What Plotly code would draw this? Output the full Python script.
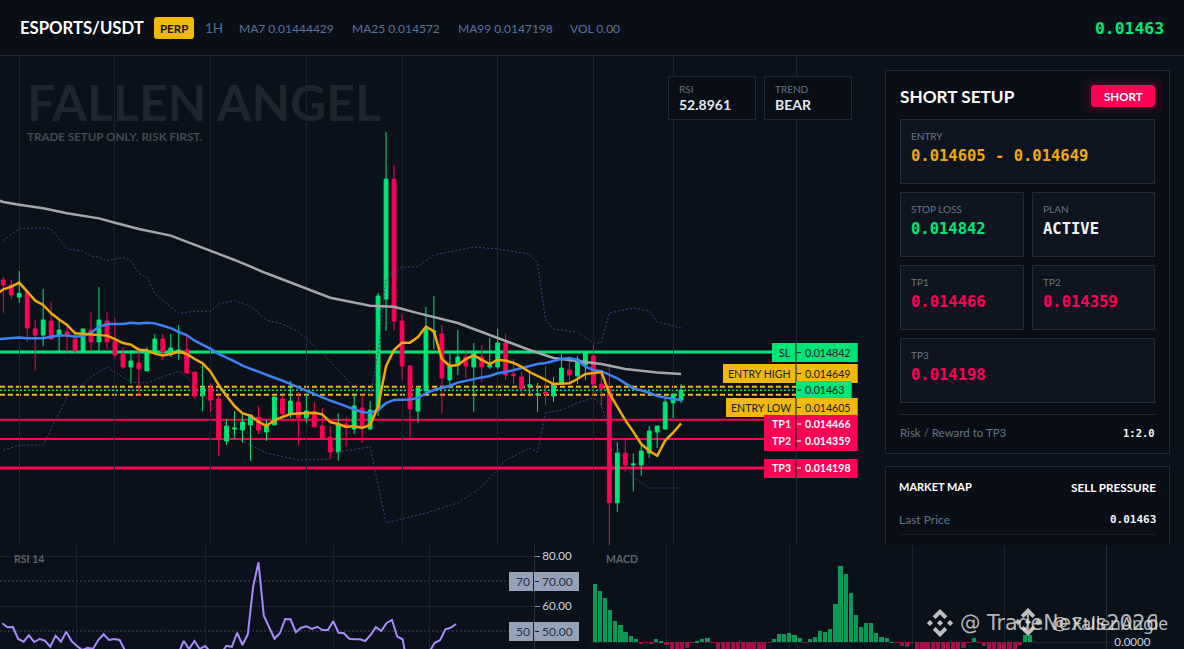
import numpy as np
import plotly.graph_objects as go

W, H = 1184, 649

# ---- candle data, in millionths of USDT
opens = [15242,15214,15147,15177,14970,14936,15014,14936,14953,14914,14840,14964,14898,15014,14903,14831,14759,14781,14737,14836,
         14914,14831,14836,14853,14731,14598,14642,14581,14348,14414,14409,14437,14481,14398,14437,14581,14498,14564,14476,14509,
         14431,14370,14287,14442,14414,14531,14414,14520,15136,15802,15014,14764,14514,14626,14953,14942,14687,14770,14814,14759,
         14814,14759,14759,14892,14720,14703,14653,14604,14620,14598,14664,14742,14709,14770,14820,14664,14637,14005,14281,14215,
         14215,14281,14398,14414,14559,14575]
highs = [15260,15242,15292,15177,15020,15192,15120,15014,14983,14964,14970,15064,15203,15064,15031,14868,14853,14868,14868,14942,
         14942,14942,14992,14931,14731,14770,14668,14603,14470,14514,14498,14492,14542,14464,14592,14603,14681,14620,14613,14564,
         14531,14431,14501,14481,14613,14613,14570,15170,16063,15880,15053,14770,14653,15092,15153,14992,14835,14964,14853,14892,
         14881,14920,14970,14942,14803,14731,14742,14670,14764,14703,14831,14798,14820,14836,14881,14742,14779,14342,14353,14279,
         14326,14431,14431,14581,14609,14664]
lows = [15060,15136,15116,14899,14738,14875,14909,14844,14838,14835,14840,14844,14844,14859,14809,14748,14668,14598,14737,14836,
        14798,14814,14798,14725,14583,14514,14509,14265,14326,14359,14339,14237,14387,14348,14437,14476,14476,14326,14450,14426,
        14364,14246,14239,14315,14387,14337,14414,14487,14959,14964,14687,14364,14448,14626,14859,14498,14642,14714,14698,14509,
        14675,14748,14748,14687,14664,14609,14598,14509,14548,14564,14664,14664,14664,14687,14598,14542,13760,13955,14178,14067,
        14155,14255,14309,14414,14475,14559]
closes = [15214,15159,15168,14975,14936,15020,14914,14964,14936,14848,14970,14898,15020,14898,14825,14759,14792,14748,14836,14914,
          14842,14864,14853,14725,14598,14642,14576,14359,14431,14420,14453,14492,14409,14442,14592,14498,14570,14476,14514,14426,
          14364,14287,14442,14426,14542,14426,14520,15153,15802,15014,14764,14526,14642,14970,14959,14698,14770,14814,14764,14836,
          14759,14770,14892,14714,14711,14637,14659,14609,14609,14664,14753,14714,14803,14836,14664,14637,14005,14281,14215,14220,
          14292,14403,14431,14564,14609,14630]

# moving averages, first value belongs to the candle before the first one shown
ma7 = [15158,15190,15205,15227,15177,15127,15103,15057,15023,14992,14946,14942,14938,14938,14933,14914,14892,14883,14855,14851,14833,
       14823,14831,14844,14831,14803,14779,14733,14659,14598,14542,14501,14489,14455,14431,14464,14479,14498,14500,14503,14505,
       14496,14453,14442,14426,14431,14420,14437,14539,14764,14853,14894,14894,14925,14983,14957,14803,14764,14770,14803,14825,
       14798,14775,14799,14794,14781,14759,14731,14711,14687,14664,14664,14668,14692,14720,14726,14731,14612,14538,14464,14400,
       14331,14294,14266,14350,14394,14446]
ma25 = [14912,14914,14920,14922,14918,14916,14918,14927,14933,14933,14927,14931,14949,14983,14996,14997,14997,15005,15001,15005,15001,
        14988,14975,14953,14936,14905,14883,14859,14831,14811,14790,14766,14749,14733,14712,14699,14683,14664,14644,14627,14609,
        14590,14572,14557,14539,14524,14509,14503,14520,14559,14576,14579,14579,14587,14613,14631,14642,14655,14672,14683,14694,
        14701,14709,14724,14731,14742,14751,14766,14775,14781,14794,14803,14809,14798,14761,14742,14736,14714,14696,14668,14640,
        14629,14616,14598,14588,14581,14575]
ma99_idx = [-1,0,2,5,8,12,14,17,21,26,29,33,37,41,46,49,52,57,62,66,69,75,78,82,85]
ma99_val = [15690,15675,15660,15640,15612,15584,15560,15525,15488,15406,15353,15279,15210,15143,15099,15093,15058,15003,14920,14853,14809,14775,14748,14728,14720]

bb_up_idx = [0,2,5,6,8,10,11,12,13,15,16,17,18,19,22,24,26,27,29,31,33,35,37,40,44,46,47,48,50,52,54,59,62,66,67,68,69,72,74,75,76,79,81,82,85]
bb_up_val = [15460,15527,15532,15525,15414,15403,15375,15368,15349,15366,15349,15279,15256,15168,15057,15068,15068,15109,15127,15097,15020,14997,14955,14836,14648,14603,14836,15242,15314,15314,15381,15425,15414,15386,15336,15020,14970,14953,14892,14892,15058,15086,15070,15009,14975]
bb_lo_idx = [0,2,5,8,11,13,16,18,22,23,26,29,33,37,41,42,46,48,53,57,60,63,66,67,68,70,72,74,75,76,79,81,85]
bb_lo_val = [14298,14324,14326,14592,14703,14759,14675,14670,14736,14703,14559,14370,14281,14242,14248,14287,14315,13893,13948,14004,14092,14242,14309,14287,14503,14520,14559,14587,14548,14398,14148,14087,14087]

rsi = [53.07,51.47,51.6,46.8,45.73,48.27,45.6,46.8,46.13,43.73,48.13,45.73,49.73,46.0,44.0,42.4,43.33,42.8,46.4,48.67,
       46.4,46.8,46.4,42.4,38,36,33,30,31,32,34,36,38,41,46.0,42.8,46.0,42.8,44.0,41.7,
       40.5,41,44.1,43.7,49.3,44.4,48.7,67.7,77.5,56.1,51.3,46.9,49.1,54.8,54.7,49.5,51.3,51.9,50.8,51.7,
       50.4,50.4,53.9,49.3,49.1,46.9,46.7,46.7,46.0,48.4,51.5,50.0,53.2,54.4,47.7,46.7,35,33,36,39,
       41.7,45.3,46.3,50.7,51.3,52.8]

# histogram in units of 1e-7
macd_hist = [175,154,132,97,64,51,31,19,10,-5,-2,-4,10,4,-8,-26,-28,-30,-16,-1,
             4,10,13,-1,-30,-32,-34,-35,-35,-34,-33,-30,-28,-24,-1,10,25,26,28,23,
             13,-1,10,16,34,31,40,115,229,205,148,82,46,58,58,28,16,13,1,-1,
             -12,-14,-1,-24,-28,-30,-30,-30,-28,-26,-24,-22,-17,-2,13,-1,-10,-26,-32,-34,
             -32,-30,-24,-8,22,22]

# price levels, in USDT
sl_price = 0.014842
entry_high = 0.014649
entry_low = 0.014605
last_price = 0.01463
tp1 = 0.014466
tp2 = 0.014359
tp3 = 0.014198

grid_main = [2,14,26,38,50,62,74,84]
grid_sub = [14,38,62,80]

GREEN, RED, GOLD = "#00E676", "#FF0055", "#F0B90B"
BG = "#0B111A"
MUTED = "#64748B"
SANS = "Lato, 'Noto Sans', sans-serif"
MONO = "'DejaVu Sans Mono', monospace"

u = 1e-6
idx = np.arange(len(opens))
fig = go.Figure()

bb_style = dict(color="#463A88", width=1, dash="2px,2px")
fig.add_trace(go.Scatter(x=bb_up_idx, y=np.array(bb_up_val)*u, mode="lines", line=bb_style, hoverinfo="skip"))
fig.add_trace(go.Scatter(x=bb_lo_idx, y=np.array(bb_lo_val)*u, mode="lines", line=bb_style, hoverinfo="skip"))
fig.add_trace(go.Candlestick(x=idx, open=np.array(opens)*u, high=np.array(highs)*u, low=np.array(lows)*u, close=np.array(closes)*u,
    increasing=dict(line=dict(color=GREEN, width=1), fillcolor=GREEN),
    decreasing=dict(line=dict(color=RED, width=1), fillcolor=RED),
    whiskerwidth=0, hoverinfo="skip"))
fig.add_trace(go.Scatter(x=ma99_idx, y=np.array(ma99_val)*u, mode="lines", line=dict(color="#A3A6AD", width=2.5), hoverinfo="skip"))
fig.add_trace(go.Scatter(x=np.arange(-1,86), y=np.array(ma25)*u, mode="lines", line=dict(color="#3B82F6", width=2.5), hoverinfo="skip"))
fig.add_trace(go.Scatter(x=np.arange(-1,86), y=np.array(ma7)*u, mode="lines", line=dict(color="#F0A90B", width=2.5), hoverinfo="skip"))

fig.add_trace(go.Scatter(x=idx, y=rsi, mode="lines", line=dict(color="#A78BFA", width=2), xaxis="x2", yaxis="y2", hoverinfo="skip"))
fig.add_trace(go.Bar(x=idx, y=np.array(macd_hist)*1e-7, width=0.82,
    marker=dict(color=["#0A9A57" if v >= 0 else "#A50F48" for v in macd_hist], line=dict(width=0)),
    xaxis="x3", yaxis="y3", hoverinfo="skip"))

def X(p): return p/W
def Y(p): return 1-p/H

shapes, ann = [], []
def rect(x0,y0,x1,y1,fill,line=None,lw=1,layer="below"):
    shapes.append(dict(type="rect",xref="paper",yref="paper",x0=X(x0),x1=X(x1),y0=Y(y0),y1=Y(y1),
        fillcolor=fill,line=dict(color=line or "rgba(0,0,0,0)",width=lw if line else 0),layer=layer))
def rrect(x0,y0,x1,y1,r,fill,layer="below"):
    def pt(a,b): return f"{X(a):.5f},{Y(b):.5f}"
    d = (f"M{pt(x0+r,y0)} L{pt(x1-r,y0)} Q{pt(x1,y0)} {pt(x1,y0+r)} L{pt(x1,y1-r)} Q{pt(x1,y1)} {pt(x1-r,y1)} "
         f"L{pt(x0+r,y1)} Q{pt(x0,y1)} {pt(x0,y1-r)} L{pt(x0,y0+r)} Q{pt(x0,y0)} {pt(x0+r,y0)} Z")
    shapes.append(dict(type="path",xref="paper",yref="paper",path=d,fillcolor=fill,line=dict(width=0),layer=layer))
def seg(x0,y0,x1,y1,color,lw=1,layer="below"):
    shapes.append(dict(type="line",xref="paper",yref="paper",x0=X(x0),x1=X(x1),y0=Y(y0),y1=Y(y1),line=dict(color=color,width=lw),layer=layer))
def text(x,y,s,size,color,anchor="left",bold=False,family=SANS):
    dx = {"left":-1,"right":1,"center":0}[anchor]
    ann.append(dict(xref="paper",yref="paper",x=X(x+dx),y=Y(y),text=f"<b>{s}</b>" if bold else s,showarrow=False,
        xanchor=anchor,yanchor="middle",borderpad=0,font=dict(size=size,color=color,family=family)))

# header
rect(0,0,W,55,"#0A0E17")
seg(0,55.5,W,55.5,"#1E2733")
text(20,28,"ESPORTS/USDT",16.7,"#FFFFFF",bold=True)
rrect(154,17,194,39,3,GOLD)
text(174,28,"PERP",11.5,"#1A1205","center",bold=True)
text(205,27.5,"1H",13.5,"#55708F")
hdr = "#5A7299"
text(239,28,"MA7 0.01444429",12,hdr)
text(351.5,28,"MA25 0.014572",12,hdr)
text(457.5,28,"MA99 0.0147198",12,hdr)
text(570,28,"VOL 0.00",12,hdr)
text(1164,28.5,"0.01463",16.4,GREEN,"right",bold=True,family=MONO)

# watermark on chart
text(27,102,"FALLEN ANGEL",50,"#1F252E",bold=True)
text(27,137,"TRADE SETUP ONLY. RISK FIRST.",11.6,"#434A55",bold=True)

# RSI / TREND chips
for x0,x1,lab,val in [(668.5,755.5,"RSI","52.8961"),(764.5,851.5,"TREND","BEAR")]:
    rect(x0,76.5,x1,119.5,"#090D15","#1E293B",layer="above")
    text(x0+10,89,lab,10,"#64748B",bold=False)
    text(x0+10,104,val,14,"#E2E8F0",bold=True)

# right panels
rect(885.5,70.5,1169.5,453.5,"#090D15","#1E293B")
rect(885.5,466.5,1169.5,560,"#090D15","#1E293B")
card = "#0F1520"; cb = "#232C3B"
for c in [(900.5,119.5,1154.5,183.5),(900.5,192.5,1023.5,256.5),(1032.5,192.5,1154.5,256.5),
          (900.5,265.5,1023.5,329.5),(1032.5,265.5,1154.5,329.5),(900.5,338.5,1154.5,402.5)]:
    rect(*c,card,cb)
text(900,96,"SHORT SETUP",17.2,"#FFFFFF",bold=True)
rrect(1084,78,1162,114,8,"rgba(255,0,85,0.06)")
rrect(1088,82,1158,110,6,"rgba(255,0,85,0.10)")
rrect(1091,85,1155,107,4,RED)
text(1123,96,"SHORT",11.5,"#FFFFFF","center",bold=True)
text(911,135.5,"ENTRY",10,MUTED)
text(911,156,"0.014605 - 0.014649",15.5,"#F0A90B",bold=True,family=MONO)
text(911,208.5,"STOP LOSS",10,MUTED)
text(911,229,"0.014842",15.5,GREEN,bold=True,family=MONO)
text(1042.5,208.5,"PLAN",10,MUTED)
text(1042.5,229,"ACTIVE",15.5,"#F1F5F9",bold=True,family=MONO)
text(911,281.5,"TP1",10,MUTED)
text(911,302,"0.014466",15.5,RED,bold=True,family=MONO)
text(1042.5,281.5,"TP2",10,MUTED)
text(1042.5,302,"0.014359",15.5,RED,bold=True,family=MONO)
text(911,354.5,"TP3",10,MUTED)
text(911,375,"0.014198",15.5,RED,bold=True,family=MONO)
seg(900,414.5,1155,414.5,"#1E293B")
text(900,432,"Risk / Reward to TP3",11.5,MUTED)
text(1155,432.5,"1:2.0",10.5,"#F1F5F9","right",bold=True,family=MONO)
text(899,486.5,"MARKET MAP",11,"#FFFFFF",bold=True)
text(1156,486.5,"SELL PRESSURE",11.7,"#FFFFFF","right",bold=True)
text(899,519,"Last Price",12,MUTED)
text(1156,519,"0.01463",11,"#F1F5F9","right",bold=True,family=MONO)
seg(899,534.5,1156,534.5,"#141C28")

# lower pane background over the panel
rect(0,545,W,H,BG)

# price-level lines in data coordinates
def level(p,color,lw,dash="solid"):
    shapes.append(dict(type="line",xref="x domain",yref="y",x0=0,x1=1,y0=p,y1=p,line=dict(color=color,width=lw,dash=dash),layer="below"))
level(sl_price,GREEN,3)
level(entry_high,"#F5B90B",2,"5px,3px")
level(entry_low,"#F5B90B",2,"5px,3px")
level(last_price,GREEN,1.5,"2px,2px")
level(tp1,RED,2)
level(tp2,RED,2)
level(tp3,RED,3)

# price tags
DARK = "#16202A"
TAGSZ = 10.6
def tag(x0,x1,y0,y1,fill,lab,val,txt,laby=None,bold=False):
    rect(x0,y0,x1,y1,fill,layer="above")
    cy = laby if laby else (y0+y1)/2
    seg(796,y0,796,y1,"#0B111A",1,layer="above")
    seg(797,cy,801,cy,txt,1,layer="above")
    if lab: text(790.5,cy,lab,TAGSZ,txt,"right",bold=bold)
    text(805,cy,val,TAGSZ,txt,bold=bold)
tag(772,857.7,343,362,GREEN,"SL","0.014842",DARK)
tag(723,857.7,364,383,GOLD,"ENTRY HIGH","0.014649",DARK)
rect(796,381,851.7,398,GREEN,layer="above")
seg(797,390,801,390,DARK,1,layer="above")
text(805,390,"0.01463",TAGSZ,DARK)
tag(726,857.7,398,417,GOLD,"ENTRY LOW","0.014605",DARK)
tag(764,857.7,415,434,RED,"TP1","0.014466","#FFFFFF",424,True)
tag(764,857.7,431,451,RED,"TP2","0.014359","#FFFFFF",441,True)
tag(764,857.7,459,478,RED,"TP3","0.014198","#FFFFFF",468,True)

# RSI pane
for v in (70,50):
    shapes.append(dict(type="line",xref="x2 domain",yref="y2",x0=0,x1=1,y0=v,y1=v,line=dict(color="#3D4654",width=1,dash="2px,2px"),layer="below"))
for y0,y1,lab in [(572,591,"70"),(622,641,"50")]:
    rect(509,y0,579,y1,"#94A3B8",layer="above")
    seg(533.5,y0,533.5,y1,DARK,1,layer="above")
    seg(535,(y0+y1)/2,539,(y0+y1)/2,DARK,1,layer="above")
    text(523,(y0+y1)/2,lab,12,"#27303C","center")
    text(557,(y0+y1)/2,lab+".00",12,"#27303C","center")
text(14,559,"RSI 14",10.5,"#5B6572",bold=True)
text(606,559,"MACD",10.5,"#5B6572",bold=True)

# Binance-style marks and overlapping footer credit
def logo(cx,cy,r):
    col = "rgba(222,222,222,0.85)"
    def poly(pts):
        d = "M"+" L".join(f"{X(cx+a*r):.5f},{Y(cy+b*r):.5f}" for a,b in pts)+" Z"
        shapes.append(dict(type="path",xref="paper",yref="paper",path=d,fillcolor=col,line=dict(width=0),layer="above"))
    poly([(0,-1),(.52,-.48),(.32,-.28),(0,-.6),(-.32,-.28),(-.52,-.48)])
    poly([(0,1),(.52,.48),(.32,.28),(0,.6),(-.32,.28),(-.52,.48)])
    for c in (-.72,0,.72):
        poly([(c-.22,0),(c,-.22),(c+.22,0),(c,.22)])
logo(940,623,14)
logo(1028,622,14)
wm = "rgba(226,226,226,0.8)"
text(960,623,"@ TradeNexus2026",20.5,wm,family="'DejaVu Sans', sans-serif")
text(1052,623,"@ FallenAngle",17.5,wm,family="'Noto Sans', sans-serif")

grid = "#1C2431"
axis_off = dict(showticklabels=False,ticks="",showline=False,zeroline=False,showgrid=True,gridcolor=grid,gridwidth=1,tickmode="array")
fig.update_layout(
    width=W,height=H,margin=dict(l=0,r=0,t=0,b=0,pad=0),autosize=False,showlegend=False,
    paper_bgcolor=BG,plot_bgcolor=BG,hovermode=False,boxgap=0.32,bargap=0,barmode="overlay",
    xaxis=dict(domain=[0,796/W],range=[-0.414,99.41],tickvals=grid_main,rangeslider=dict(visible=False),anchor="y",**axis_off),
    yaxis=dict(domain=[1-545/H,1-56/H],range=[0.0137705,0.0164854],side="right",anchor="x",showgrid=False,zeroline=False,
               showticklabels=False,ticks="",showline=True,linecolor="#1E293B"),
    xaxis2=dict(domain=[0,534/W],range=[-0.41,99.6],tickvals=grid_sub,anchor="y2",**axis_off),
    yaxis2=dict(domain=[0,1-545/H],range=[42.8,84.4],side="right",anchor="x2",tickmode="array",tickvals=[60,80],tickformat=".2f",
                gridcolor=grid,zeroline=False,showline=True,linecolor="#232C3B",ticks="outside",ticklen=5,tickcolor="#8A94A3",
                tickfont=dict(size=11.5,color="#CBD5E1",family=SANS)),
    xaxis3=dict(domain=[590/W,1106/W],range=[-0.94,99.85],tickvals=grid_sub,anchor="y3",**axis_off),
    yaxis3=dict(domain=[0,1-545/H],range=[-20e-7,292e-7],side="right",anchor="x3",tickmode="array",tickvals=[0],tickformat=".4f",
                gridcolor=grid,zeroline=False,showline=True,linecolor="#232C3B",ticks="outside",ticklen=5,tickcolor="#1C2431",
                tickfont=dict(size=11.5,color="#CBD5E1",family=SANS)),
    shapes=shapes,annotations=ann,
)
fig.write_html("out.html",post_script="document.body.style.margin='0';document.body.style.background='#0B111A';document.body.style.overflow='hidden';",config={"displayModeBar":False})
